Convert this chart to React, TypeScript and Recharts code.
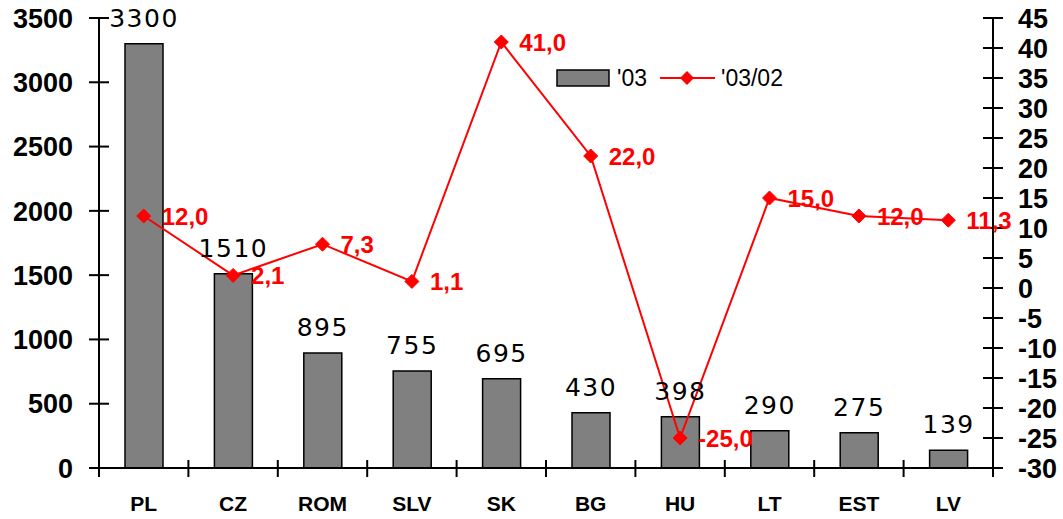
import React from 'react';
import { ComposedChart, Bar, Line, XAxis, YAxis, LabelList } from 'recharts';

const categories = ['PL', 'CZ', 'ROM', 'SLV', 'SK', 'BG', 'HU', 'LT', 'EST', 'LV'];
const values03 = [3300, 1510, 895, 755, 695, 430, 398, 290, 275, 139];
const change0302 = [12.0, 2.1, 7.3, 1.1, 41.0, 22.0, -25.0, 15.0, 12.0, 11.3];
const leftTicks = [0, 500, 1000, 1500, 2000, 2500, 3000, 3500];
const rightTicks = [-30, -25, -20, -15, -10, -5, 0, 5, 10, 15, 20, 25, 30, 35, 40, 45];

const data = categories.map((c, i) => ({ cat: c, v: values03[i], ch: change0302[i] }));

const W = 1063;
const H = 519;
const LEFT = 99;
const RIGHT_W = 70;
const TOP = 18;
const XH = 51;
const BAND = (W - LEFT - RIGHT_W) / categories.length;

const AX = 'Liberation Sans, Arial, sans-serif';

const LeftTick = (props: any) => {
  const { x, y, payload } = props;
  return (
    <g>
      <line x1={x - 10} x2={x + 10} y1={y} y2={y} stroke="#000" strokeWidth={2} />
      <text x={x - 26} y={y} dy="0.36em" textAnchor="end" fontFamily={AX} fontWeight="bold" fontSize={27} fill="#000">
        {payload.value}
      </text>
    </g>
  );
};

const RightTick = (props: any) => {
  const { x, y, payload } = props;
  return (
    <g>
      <line x1={x - 10} x2={x + 10} y1={y} y2={y} stroke="#000" strokeWidth={2} />
      <text x={x + 25} y={y} dy="0.36em" textAnchor="start" fontFamily={AX} fontWeight="bold" fontSize={27} fill="#000">
        {payload.value}
      </text>
    </g>
  );
};

const XTick = (props: any) => {
  const { x, y, payload, index } = props;
  return (
    <g>
      <line x1={x - BAND / 2} x2={x - BAND / 2} y1={y - 8} y2={y + 9} stroke="#000" strokeWidth={2} />
      {index === categories.length - 1 && (
        <line x1={x + BAND / 2} x2={x + BAND / 2} y1={y - 8} y2={y + 9} stroke="#000" strokeWidth={2} />
      )}
      <text x={x} y={y + 43} textAnchor="middle" fontFamily={AX} fontWeight="bold" fontSize={21} fill="#000">
        {payload.value}
      </text>
    </g>
  );
};

const Diamond = (props: any) => {
  const { cx, cy } = props;
  if (cx == null || cy == null) return null;
  const r = 7;
  return <polygon points={`${cx},${cy - r} ${cx + r},${cy} ${cx},${cy + r} ${cx - r},${cy}`} fill="#ff0000" stroke="#ff0000" />;
};

const BarLabel = (props: any) => {
  const { x, y, width, value } = props;
  return (
    <text x={x + width / 2} y={y - 17} textAnchor="middle" fontFamily="DejaVu Sans, Verdana, sans-serif" fontSize={25} letterSpacing={1.5} fill="#000">
      {value}
    </text>
  );
};

const LineLabel = (props: any) => {
  const { x, y, value } = props;
  return (
    <text x={x + 18} y={y} dy="0.36em" textAnchor="start" fontFamily={AX} fontWeight="bold" fontSize={24} fill="#ff0000">
      {Number(value).toFixed(1).replace('.', ',')}
    </text>
  );
};

const LegendBox = () => (
  <svg width={250} height={30} style={{ position: 'absolute', left: 556, top: 64, display: 'block' }}>
    <rect x={1} y={6} width={52} height={16} fill="#808080" stroke="#000" strokeWidth={1.5} />
    <text x={61} y={14} dy="0.36em" fontFamily={AX} fontSize={23} fill="#000">'03</text>
    <line x1={104} x2={159} y1={14} y2={14} stroke="#ff0000" strokeWidth={2} />
    <polygon points="131,7 138,14 131,21 124,14" fill="#ff0000" />
    <text x={165} y={14} dy="0.36em" fontFamily={AX} fontSize={23} fill="#000">'03/02</text>
  </svg>
);

export default function App() {
  return (
    <div style={{ position: 'absolute', left: 0, top: 0, width: W, height: H, background: '#fff' }}>
      <ComposedChart width={W} height={H} data={data} margin={{ top: TOP, right: 0, bottom: 0, left: 0 }}>
        <XAxis
          dataKey="cat"
          height={XH}
          interval={0}
          tickSize={0}
          tickMargin={0}
          tickLine={false}
          axisLine={{ stroke: '#000', strokeWidth: 2 }}
          tick={<XTick />}
        />
        <YAxis
          yAxisId="left"
          orientation="left"
          width={LEFT}
          domain={[0, 3500]}
          ticks={leftTicks}
          interval={0}
          tickSize={0}
          tickMargin={0}
          tickLine={false}
          axisLine={{ stroke: '#000', strokeWidth: 2 }}
          tick={<LeftTick />}
        />
        <YAxis
          yAxisId="right"
          orientation="right"
          width={RIGHT_W}
          domain={[-30, 45]}
          ticks={rightTicks}
          interval={0}
          tickSize={0}
          tickMargin={0}
          tickLine={false}
          axisLine={{ stroke: '#000', strokeWidth: 2 }}
          tick={<RightTick />}
        />
        <Bar yAxisId="left" dataKey="v" name="'03" barSize={38} fill="#808080" stroke="#000" strokeWidth={1.5} isAnimationActive={false}>
          <LabelList dataKey="v" content={<BarLabel />} />
        </Bar>
        <Line
          yAxisId="right"
          dataKey="ch"
          name="'03/02"
          stroke="#ff0000"
          strokeWidth={2}
          dot={<Diamond />}
          activeDot={false}
          isAnimationActive={false}
        >
          <LabelList dataKey="ch" content={<LineLabel />} />
        </Line>
      </ComposedChart>
      <LegendBox />
    </div>
  );
}
